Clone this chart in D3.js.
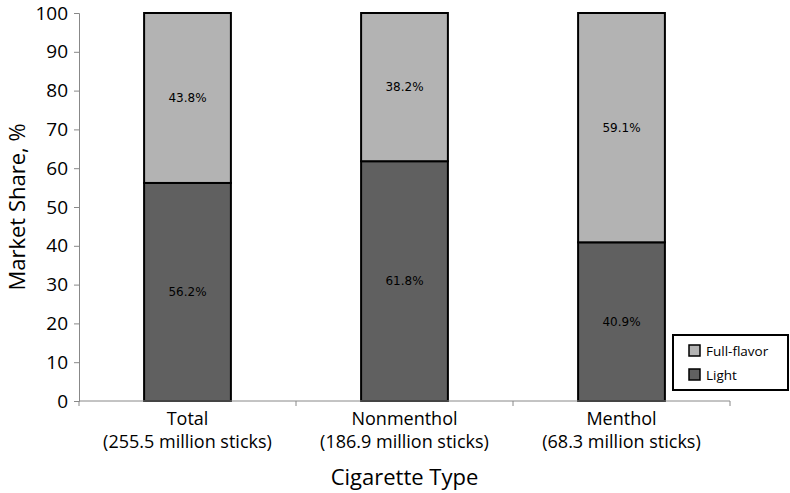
<!DOCTYPE html>
<html>
<head>
<meta charset="utf-8">
<script src="https://d3js.org/d3.v7.min.js"></script>
<style>
  body { margin: 0; background: #fff; }
</style>
</head>
<body>
<svg id="chart"></svg>
<script>
var categories = ["Total", "Nonmenthol", "Menthol"];
var subLabels = ["(255.5 million sticks)", "(186.9 million sticks)", "(68.3 million sticks)"];
var light = [56.2, 61.8, 40.9];
var fullFlavor = [43.8, 38.2, 59.1];
var yTicks = [0, 10, 20, 30, 40, 50, 60, 70, 80, 90, 100];

var width = 790, height = 493;
var plotLeft = 79, plotRight = 730, plotTop = 13, plotBottom = 401;
var axisFont = "'Open Sans', 'Noto Sans', sans-serif";

var svg = d3.select("#chart").attr("width", width).attr("height", height);

var x = d3.scaleBand().domain(categories).range([plotLeft, plotRight]).paddingInner(0).paddingOuter(0);
var y = d3.scaleLinear().domain([0, 100]).range([plotBottom, plotTop]);
var barW = x.bandwidth() * 0.4;

var rows = categories.map(function(c, i) {
  return { cat: c, light: light[i], full: fullFlavor[i] };
});

// light segment
svg.selectAll("rect.light").data(rows).enter().append("rect")
  .attr("class", "light")
  .attr("x", function(d) { return x(d.cat) + (x.bandwidth() - barW) / 2; })
  .attr("y", function(d) { return y(d.light); })
  .attr("width", barW)
  .attr("height", function(d) { return y(0) - y(d.light); })
  .attr("fill", "#606060").attr("stroke", "#000").attr("stroke-width", 2);

// full-flavor segment
svg.selectAll("rect.full").data(rows).enter().append("rect")
  .attr("class", "full")
  .attr("x", function(d) { return x(d.cat) + (x.bandwidth() - barW) / 2; })
  .attr("y", function(d) { return y(d.light + d.full); })
  .attr("width", barW)
  .attr("height", function(d) { return y(d.light) - y(d.light + d.full); })
  .attr("fill", "#b3b3b3").attr("stroke", "#000").attr("stroke-width", 2);

// value labels
rows.forEach(function(d) {
  var cx = x(d.cat) + x.bandwidth() / 2;
  svg.append("text").attr("x", cx).attr("y", y(d.light / 2)).attr("dy", "0.35em")
    .attr("text-anchor", "middle").attr("font-family", "DejaVu Sans").attr("font-size", 12)
    .text(d.light.toFixed(1) + "%");
  svg.append("text").attr("x", cx).attr("y", y(d.light + d.full / 2)).attr("dy", "0.35em")
    .attr("text-anchor", "middle").attr("font-family", "DejaVu Sans").attr("font-size", 12)
    .text(d.full.toFixed(1) + "%");
});

// y axis
var yAxis = svg.append("g").attr("transform", "translate(" + plotLeft + ",0)")
  .call(d3.axisLeft(y).tickValues(yTicks).tickSize(5).tickPadding(6));
yAxis.select(".domain").attr("stroke", "#888");
yAxis.selectAll(".tick line").attr("stroke", "#888");
yAxis.selectAll(".tick text").attr("font-family", axisFont).attr("font-size", 19).attr("fill", "#000");

// x axis
var xg = svg.append("g").attr("transform", "translate(0," + plotBottom + ")");
xg.append("line").attr("x1", plotLeft).attr("x2", plotRight).attr("y1", 0).attr("y2", 0).attr("stroke", "#888");
var bounds = categories.map(function(c) { return x(c); }).concat([plotRight]);
xg.selectAll("line.tk").data(bounds).enter().append("line")
  .attr("x1", function(d) { return d; }).attr("x2", function(d) { return d; })
  .attr("y1", 0).attr("y2", 5).attr("stroke", "#888");

categories.forEach(function(c, i) {
  var cx = x(c) + x.bandwidth() / 2;
  svg.append("text").attr("x", cx).attr("y", 425).attr("text-anchor", "middle")
    .attr("font-family", axisFont).attr("font-size", 18).text(c);
  svg.append("text").attr("x", cx).attr("y", 448).attr("text-anchor", "middle")
    .attr("font-family", axisFont).attr("font-size", 18).text(subLabels[i]);
});

// axis titles
svg.append("text").attr("x", (plotLeft + plotRight) / 2).attr("y", 485).attr("text-anchor", "middle")
  .attr("font-family", axisFont).attr("font-size", 22).text("Cigarette Type");
svg.append("text").attr("transform", "translate(25," + ((plotTop + plotBottom) / 2) + ") rotate(-90)")
  .attr("text-anchor", "middle").attr("font-family", axisFont).attr("font-size", 22)
  .text("Market Share, %");

// legend
var lg = svg.append("g").attr("transform", "translate(673,335)");
lg.append("rect").attr("width", 115).attr("height", 55).attr("fill", "#fff")
  .attr("stroke", "#000").attr("stroke-width", 2);
var legendItems = [{ name: "Full-flavor", color: "#b3b3b3" }, { name: "Light", color: "#606060" }];
legendItems.forEach(function(d, i) {
  var yy = 8 + i * 24;
  lg.append("rect").attr("x", 16).attr("y", yy + 2).attr("width", 11).attr("height", 11)
    .attr("fill", d.color).attr("stroke", "#000").attr("stroke-width", 1.5);
  lg.append("text").attr("x", 33).attr("y", yy + 8).attr("dy", "0.35em")
    .attr("font-family", axisFont).attr("font-size", 13.5).text(d.name);
});
</script>
</body>
</html>
